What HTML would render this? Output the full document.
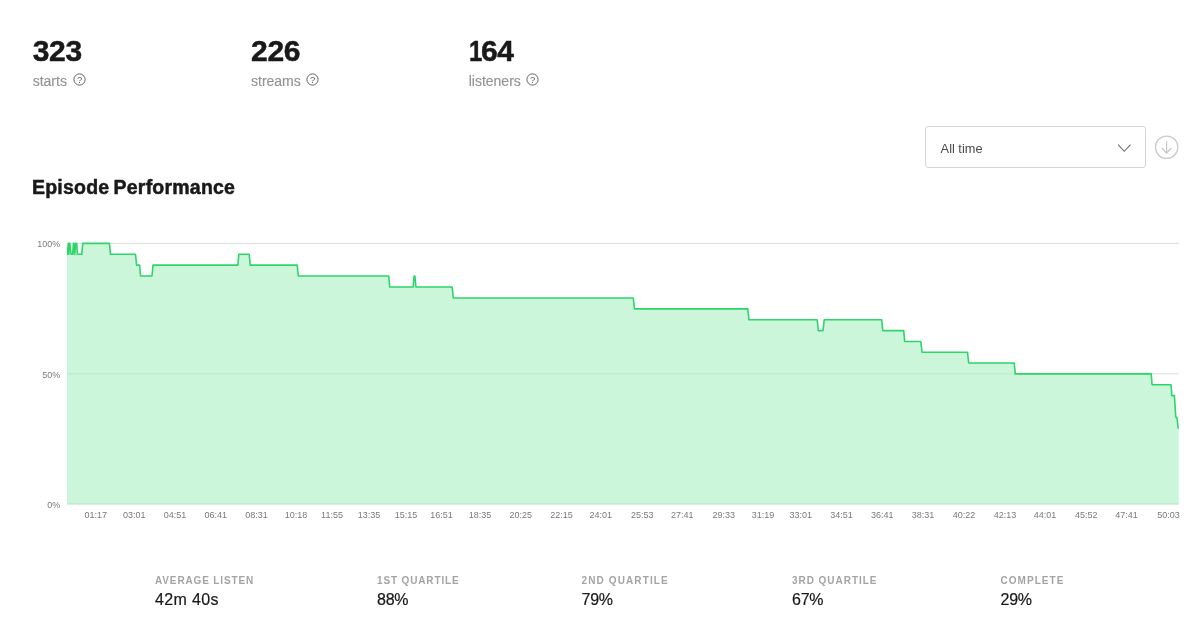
<!DOCTYPE html>
<html><head><meta charset="utf-8"><title>Episode Performance</title>
<style>
html,body{margin:0;padding:0;background:#fff;}
body{will-change:transform;width:1198px;height:620px;position:relative;overflow:hidden;font-family:"Liberation Sans",sans-serif;color:#181818;}
.stat{position:absolute;top:34.7px;}
.stat .num{font-size:30px;font-weight:700;line-height:32px;letter-spacing:-0.3px;color:#191919;-webkit-text-stroke:0.5px #191919;}
.stat .lbl{font-size:14px;line-height:16px;color:#939393;-webkit-text-stroke:0.15px #939393;margin-top:6px;white-space:nowrap;}
.q{display:inline-block;vertical-align:-0.8px;margin-left:5.6px;}
.one{display:inline-block;transform:scaleX(0.8);transform-origin:0 50%;margin-right:-4.2px;}
h2{position:absolute;left:32px;top:175.1px;margin:0;font-size:19.5px;line-height:24px;font-weight:700;color:#191919;letter-spacing:0.22px;word-spacing:-1.5px;white-space:nowrap;-webkit-text-stroke:0.5px #191919;}
.dd{position:absolute;left:925px;top:126.2px;width:218.6px;height:40px;border:1px solid #d4d7da;border-radius:3px;background:#fff;}
.dd span{position:absolute;left:14.6px;top:1px;line-height:42px;font-size:12.8px;color:#4a4a4a;}
svg text{font-family:"Liberation Sans",sans-serif;}
.bot{position:absolute;top:574.8px;}
.bot .t{font-size:10px;line-height:12px;letter-spacing:0.86px;color:#a4a4a4;font-weight:700;white-space:nowrap;}
.bot .v{font-size:16px;line-height:18px;color:#191919;margin-top:4px;white-space:nowrap;letter-spacing:0.35px;-webkit-text-stroke:0.2px #191919;}
</style></head><body>
<div class="stat" style="left:32.7px"><div class="num">323</div><div class="lbl">starts<svg class="q" width="13" height="13" viewBox="0 0 13 13"><circle cx="6.5" cy="6.5" r="5.6" fill="none" stroke="#626262" stroke-width="1"/><text x="6.6" y="9.7" font-size="9.5" text-anchor="middle" fill="#626262">?</text></svg></div></div>
<div class="stat" style="left:251px"><div class="num">226</div><div class="lbl">streams<svg class="q" width="13" height="13" viewBox="0 0 13 13"><circle cx="6.5" cy="6.5" r="5.6" fill="none" stroke="#626262" stroke-width="1"/><text x="6.6" y="9.7" font-size="9.5" text-anchor="middle" fill="#626262">?</text></svg></div></div>
<div class="stat" style="left:468.7px"><div class="num"><span class="one">1</span>64</div><div class="lbl">listeners<svg class="q" width="13" height="13" viewBox="0 0 13 13"><circle cx="6.5" cy="6.5" r="5.6" fill="none" stroke="#626262" stroke-width="1"/><text x="6.6" y="9.7" font-size="9.5" text-anchor="middle" fill="#626262">?</text></svg></div></div>

<div class="dd"><span>All time</span></div>
<svg style="position:absolute;left:1100px;top:125px" width="98" height="50" viewBox="1100 125 98 50"><path d="M1118.1,144.6 L1124.3,151.3 L1130.5,144.6" fill="none" stroke="#6e6e6e" stroke-width="1.1"/><circle cx="1166.65" cy="147.25" r="11.2" fill="none" stroke="#c9cbcd" stroke-width="1.3"/><path d="M1166.6,141.2 V153 M1161.8,148 L1166.6,153.1 L1171.4,148" fill="none" stroke="#c3c5c7" stroke-width="1.2"/></svg>

<h2>Episode Performance</h2>

<svg style="position:absolute;left:0;top:0" width="1198" height="620" viewBox="0 0 1198 620">
<defs><clipPath id="cp"><rect x="67.0" y="230" width="1112.1" height="290"/></clipPath></defs>
<g stroke="#dcdcdc" stroke-width="1">
<line x1="67.0" y1="243.4" x2="1178.8" y2="243.4"/>
<line x1="67.0" y1="373.85" x2="1016" y2="373.85" stroke="#ececec"/><line x1="1016" y1="373.85" x2="1178.8" y2="373.85"/>
<line x1="67.0" y1="504" x2="1178.8" y2="504" stroke="#e6e6e6"/>
</g>
<path d="M67.0,504.5 L67.0,254.32 L66.00,254.32 L67.30,254.32 L68.30,243.40 L68.80,254.32 L69.20,243.40 L69.80,243.40 L71.10,254.32 L72.70,254.32 L73.40,243.40 L73.90,243.40 L74.70,254.32 L75.70,243.40 L76.70,243.40 L77.40,254.32 L81.75,254.32 L82.75,243.40 L109.40,243.40 L110.50,254.32 L135.50,254.32 L136.60,265.14 L139.60,265.14 L140.60,276.01 L152.00,276.01 L153.00,265.14 L237.80,265.14 L238.80,254.32 L249.20,254.32 L250.30,265.14 L297.20,265.14 L298.30,276.01 L388.70,276.01 L389.70,286.98 L413.20,286.98 L414.10,276.01 L414.90,276.01 L415.90,286.98 L452.20,286.98 L453.30,298.00 L633.30,298.00 L634.50,308.92 L747.80,308.92 L749.00,319.79 L817.20,319.79 L818.30,330.61 L823.00,330.61 L824.20,319.79 L881.70,319.79 L882.80,330.61 L903.70,330.61 L904.70,341.48 L920.80,341.48 L922.00,352.20 L967.50,352.20 L968.70,362.97 L1014.20,362.97 L1015.30,373.84 L1151.20,373.84 L1152.10,384.71 L1171.00,384.71 L1171.90,395.58 L1174.40,395.58 L1175.80,417.32 L1177.00,417.32 L1178.10,428.19 L1178.80,428.19 L1178.8,504.5 Z" fill="#1ed760" fill-opacity="0.23" clip-path="url(#cp)"/>
<path d="M66.00,254.32 L67.30,254.32 L68.30,243.40 L68.80,254.32 L69.20,243.40 L69.80,243.40 L71.10,254.32 L72.70,254.32 L73.40,243.40 L73.90,243.40 L74.70,254.32 L75.70,243.40 L76.70,243.40 L77.40,254.32 L81.75,254.32 L82.75,243.40 L109.40,243.40 L110.50,254.32 L135.50,254.32 L136.60,265.14 L139.60,265.14 L140.60,276.01 L152.00,276.01 L153.00,265.14 L237.80,265.14 L238.80,254.32 L249.20,254.32 L250.30,265.14 L297.20,265.14 L298.30,276.01 L388.70,276.01 L389.70,286.98 L413.20,286.98 L414.10,276.01 L414.90,276.01 L415.90,286.98 L452.20,286.98 L453.30,298.00 L633.30,298.00 L634.50,308.92 L747.80,308.92 L749.00,319.79 L817.20,319.79 L818.30,330.61 L823.00,330.61 L824.20,319.79 L881.70,319.79 L882.80,330.61 L903.70,330.61 L904.70,341.48 L920.80,341.48 L922.00,352.20 L967.50,352.20 L968.70,362.97 L1014.20,362.97 L1015.30,373.84 L1151.20,373.84 L1152.10,384.71 L1171.00,384.71 L1171.90,395.58 L1174.40,395.58 L1175.80,417.32 L1177.00,417.32 L1178.10,428.19 L1178.80,428.19" fill="none" stroke="#2dd66a" stroke-width="1.6" stroke-linejoin="round" stroke-linecap="butt" clip-path="url(#cp)"/>
<g font-size="9" fill="#7a7a7a">
<text x="60.2" y="247.2" text-anchor="end">100%</text>
<text x="60.2" y="377.5" text-anchor="end">50%</text>
<text x="60.2" y="508.2" text-anchor="end">0%</text>
</g>
<g font-size="9" fill="#7a7a7a">
<text x="95.8" y="518" text-anchor="middle">01:17</text><text x="134.3" y="518" text-anchor="middle">03:01</text><text x="175.0" y="518" text-anchor="middle">04:51</text><text x="215.8" y="518" text-anchor="middle">06:41</text><text x="256.5" y="518" text-anchor="middle">08:31</text><text x="296.1" y="518" text-anchor="middle">10:18</text><text x="332.0" y="518" text-anchor="middle">11:55</text><text x="369.0" y="518" text-anchor="middle">13:35</text><text x="406.1" y="518" text-anchor="middle">15:15</text><text x="441.6" y="518" text-anchor="middle">16:51</text><text x="480.1" y="518" text-anchor="middle">18:35</text><text x="520.8" y="518" text-anchor="middle">20:25</text><text x="561.6" y="518" text-anchor="middle">22:15</text><text x="600.8" y="518" text-anchor="middle">24:01</text><text x="642.3" y="518" text-anchor="middle">25:53</text><text x="682.3" y="518" text-anchor="middle">27:41</text><text x="723.7" y="518" text-anchor="middle">29:33</text><text x="763.0" y="518" text-anchor="middle">31:19</text><text x="800.7" y="518" text-anchor="middle">33:01</text><text x="841.5" y="518" text-anchor="middle">34:51</text><text x="882.2" y="518" text-anchor="middle">36:41</text><text x="922.9" y="518" text-anchor="middle">38:31</text><text x="964.0" y="518" text-anchor="middle">40:22</text><text x="1005.1" y="518" text-anchor="middle">42:13</text><text x="1045.1" y="518" text-anchor="middle">44:01</text><text x="1086.2" y="518" text-anchor="middle">45:52</text><text x="1126.5" y="518" text-anchor="middle">47:41</text><text x="1179.8" y="518" text-anchor="end">50:03</text>
</g>
</svg>

<div class="bot" style="left:155px"><div class="t">AVERAGE LISTEN</div><div class="v">42m 40s</div></div>
<div class="bot" style="left:377px"><div class="t">1ST QUARTILE</div><div class="v" style="letter-spacing:-0.25px">88%</div></div>
<div class="bot" style="left:581.5px"><div class="t" style="letter-spacing:1.12px">2ND QUARTILE</div><div class="v" style="letter-spacing:-0.25px">79%</div></div>
<div class="bot" style="left:792px"><div class="t" style="letter-spacing:0.96px">3RD QUARTILE</div><div class="v" style="letter-spacing:-0.25px">67%</div></div>
<div class="bot" style="left:1000.5px"><div class="t" style="letter-spacing:1.05px">COMPLETE</div><div class="v" style="letter-spacing:-0.25px">29%</div></div>
</body></html>
